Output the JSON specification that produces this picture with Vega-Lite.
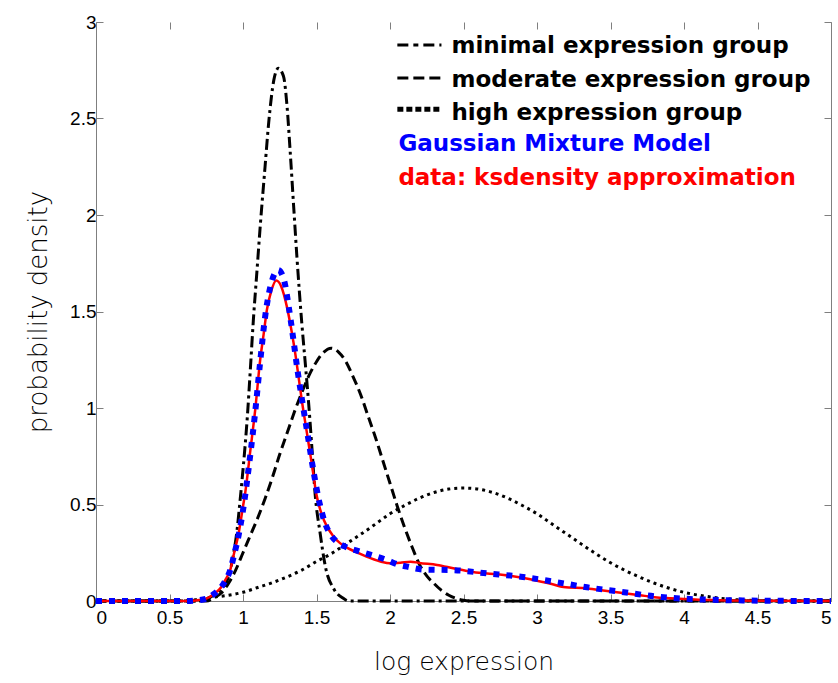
{
  "$schema": "https://vega.github.io/schema/vega-lite/v6.json",
  "width": 735,
  "height": 579,
  "autosize": {"type": "none"},
  "padding": {"left": 96, "top": 22, "right": 7, "bottom": 82},
  "background": "white",
  "config": {
    "view": {"stroke": null},
    "axis": {
      "grid": false,
      "labelFont": "Liberation Sans",
      "labelFontSize": 19,
      "labelColor": "black",
      "domainColor": "#7f7f7f",
      "tickColor": "#7f7f7f",
      "domainWidth": 1,
      "tickWidth": 1,
      "titleFont": "DejaVu Sans",
      "titleFontWeight": 200,
      "titleFontSize": 25,
      "titleColor": "black"
    }
  },
  "datasets": {
    "curves": [
      {"group": "minimal", "x": 0, "y": 0},
      {"group": "minimal", "x": 0.7, "y": 0},
      {"group": "minimal", "x": 0.75, "y": 0.01},
      {"group": "minimal", "x": 0.8, "y": 0.03},
      {"group": "minimal", "x": 0.85, "y": 0.06},
      {"group": "minimal", "x": 0.9, "y": 0.12},
      {"group": "minimal", "x": 0.93, "y": 0.22},
      {"group": "minimal", "x": 0.96, "y": 0.37},
      {"group": "minimal", "x": 0.98, "y": 0.52},
      {"group": "minimal", "x": 1.0, "y": 0.68},
      {"group": "minimal", "x": 1.03, "y": 0.96},
      {"group": "minimal", "x": 1.05, "y": 1.2},
      {"group": "minimal", "x": 1.07, "y": 1.45},
      {"group": "minimal", "x": 1.094, "y": 1.7},
      {"group": "minimal", "x": 1.117, "y": 1.94},
      {"group": "minimal", "x": 1.15, "y": 2.25},
      {"group": "minimal", "x": 1.175, "y": 2.48},
      {"group": "minimal", "x": 1.21, "y": 2.7},
      {"group": "minimal", "x": 1.24, "y": 2.76},
      {"group": "minimal", "x": 1.275, "y": 2.72},
      {"group": "minimal", "x": 1.3, "y": 2.56},
      {"group": "minimal", "x": 1.32, "y": 2.34},
      {"group": "minimal", "x": 1.345, "y": 2.04},
      {"group": "minimal", "x": 1.367, "y": 1.78},
      {"group": "minimal", "x": 1.4, "y": 1.44},
      {"group": "minimal", "x": 1.425, "y": 1.22},
      {"group": "minimal", "x": 1.447, "y": 1.02},
      {"group": "minimal", "x": 1.47, "y": 0.78},
      {"group": "minimal", "x": 1.49, "y": 0.56},
      {"group": "minimal", "x": 1.525, "y": 0.35},
      {"group": "minimal", "x": 1.56, "y": 0.18},
      {"group": "minimal", "x": 1.62, "y": 0.06},
      {"group": "minimal", "x": 1.68, "y": 0.015},
      {"group": "minimal", "x": 1.72, "y": 0},
      {"group": "minimal", "x": 5, "y": 0},

      {"group": "moderate", "x": 0, "y": 0},
      {"group": "moderate", "x": 0.75, "y": 0},
      {"group": "moderate", "x": 0.8, "y": 0.015},
      {"group": "moderate", "x": 0.85, "y": 0.04},
      {"group": "moderate", "x": 0.9, "y": 0.09},
      {"group": "moderate", "x": 0.95, "y": 0.16},
      {"group": "moderate", "x": 1.0, "y": 0.25},
      {"group": "moderate", "x": 1.05, "y": 0.34},
      {"group": "moderate", "x": 1.1, "y": 0.43},
      {"group": "moderate", "x": 1.15, "y": 0.53},
      {"group": "moderate", "x": 1.2, "y": 0.64},
      {"group": "moderate", "x": 1.25, "y": 0.76},
      {"group": "moderate", "x": 1.3, "y": 0.87},
      {"group": "moderate", "x": 1.35, "y": 0.98},
      {"group": "moderate", "x": 1.4, "y": 1.08},
      {"group": "moderate", "x": 1.45, "y": 1.17},
      {"group": "moderate", "x": 1.5, "y": 1.24},
      {"group": "moderate", "x": 1.55, "y": 1.29},
      {"group": "moderate", "x": 1.6, "y": 1.31},
      {"group": "moderate", "x": 1.65, "y": 1.29},
      {"group": "moderate", "x": 1.7, "y": 1.24},
      {"group": "moderate", "x": 1.75, "y": 1.16},
      {"group": "moderate", "x": 1.8, "y": 1.07},
      {"group": "moderate", "x": 1.85, "y": 0.96},
      {"group": "moderate", "x": 1.9, "y": 0.85},
      {"group": "moderate", "x": 1.95, "y": 0.73},
      {"group": "moderate", "x": 2.0, "y": 0.61},
      {"group": "moderate", "x": 2.05, "y": 0.49},
      {"group": "moderate", "x": 2.1, "y": 0.38},
      {"group": "moderate", "x": 2.15, "y": 0.28},
      {"group": "moderate", "x": 2.2, "y": 0.19},
      {"group": "moderate", "x": 2.25, "y": 0.13},
      {"group": "moderate", "x": 2.3, "y": 0.09},
      {"group": "moderate", "x": 2.35, "y": 0.055},
      {"group": "moderate", "x": 2.4, "y": 0.03},
      {"group": "moderate", "x": 2.45, "y": 0.014},
      {"group": "moderate", "x": 2.5, "y": 0.004},
      {"group": "moderate", "x": 2.55, "y": 0},
      {"group": "moderate", "x": 5, "y": 0},

      {"group": "high", "x": 0, "y": 0},
      {"group": "high", "x": 0.6, "y": 0},
      {"group": "high", "x": 0.72, "y": 0.012},
      {"group": "high", "x": 0.8, "y": 0.02},
      {"group": "high", "x": 0.9, "y": 0.03},
      {"group": "high", "x": 1.0, "y": 0.045},
      {"group": "high", "x": 1.1, "y": 0.07},
      {"group": "high", "x": 1.2, "y": 0.095},
      {"group": "high", "x": 1.3, "y": 0.125},
      {"group": "high", "x": 1.4, "y": 0.16},
      {"group": "high", "x": 1.5, "y": 0.205},
      {"group": "high", "x": 1.6, "y": 0.245},
      {"group": "high", "x": 1.7, "y": 0.295},
      {"group": "high", "x": 1.8, "y": 0.345},
      {"group": "high", "x": 1.9, "y": 0.398},
      {"group": "high", "x": 2.0, "y": 0.452},
      {"group": "high", "x": 2.1, "y": 0.495},
      {"group": "high", "x": 2.2, "y": 0.533},
      {"group": "high", "x": 2.3, "y": 0.562},
      {"group": "high", "x": 2.4, "y": 0.58},
      {"group": "high", "x": 2.5, "y": 0.585},
      {"group": "high", "x": 2.6, "y": 0.58},
      {"group": "high", "x": 2.7, "y": 0.562},
      {"group": "high", "x": 2.8, "y": 0.533},
      {"group": "high", "x": 2.9, "y": 0.495},
      {"group": "high", "x": 3.0, "y": 0.452},
      {"group": "high", "x": 3.1, "y": 0.4},
      {"group": "high", "x": 3.2, "y": 0.348},
      {"group": "high", "x": 3.3, "y": 0.296},
      {"group": "high", "x": 3.4, "y": 0.245},
      {"group": "high", "x": 3.5, "y": 0.198},
      {"group": "high", "x": 3.6, "y": 0.158},
      {"group": "high", "x": 3.7, "y": 0.123},
      {"group": "high", "x": 3.8, "y": 0.092},
      {"group": "high", "x": 3.9, "y": 0.066},
      {"group": "high", "x": 4.0, "y": 0.045},
      {"group": "high", "x": 4.1, "y": 0.03},
      {"group": "high", "x": 4.2, "y": 0.019},
      {"group": "high", "x": 4.3, "y": 0.01},
      {"group": "high", "x": 4.4, "y": 0.005},
      {"group": "high", "x": 4.5, "y": 0.002},
      {"group": "high", "x": 4.7, "y": 0},
      {"group": "high", "x": 5, "y": 0},

      {"group": "data", "x": 0, "y": 0},
      {"group": "data", "x": 0.6, "y": 0},
      {"group": "data", "x": 0.68, "y": 0.003},
      {"group": "data", "x": 0.75, "y": 0.012},
      {"group": "data", "x": 0.8, "y": 0.035},
      {"group": "data", "x": 0.85, "y": 0.07},
      {"group": "data", "x": 0.88, "y": 0.11},
      {"group": "data", "x": 0.913, "y": 0.16},
      {"group": "data", "x": 0.94, "y": 0.25},
      {"group": "data", "x": 0.97, "y": 0.35},
      {"group": "data", "x": 1.0, "y": 0.49},
      {"group": "data", "x": 1.015, "y": 0.56},
      {"group": "data", "x": 1.05, "y": 0.78},
      {"group": "data", "x": 1.083, "y": 0.99},
      {"group": "data", "x": 1.117, "y": 1.25},
      {"group": "data", "x": 1.14, "y": 1.38},
      {"group": "data", "x": 1.163, "y": 1.51},
      {"group": "data", "x": 1.19, "y": 1.6},
      {"group": "data", "x": 1.226, "y": 1.66},
      {"group": "data", "x": 1.26, "y": 1.63},
      {"group": "data", "x": 1.3, "y": 1.52},
      {"group": "data", "x": 1.33, "y": 1.4},
      {"group": "data", "x": 1.356, "y": 1.28},
      {"group": "data", "x": 1.38, "y": 1.15},
      {"group": "data", "x": 1.4, "y": 1.04},
      {"group": "data", "x": 1.435, "y": 0.87},
      {"group": "data", "x": 1.47, "y": 0.7},
      {"group": "data", "x": 1.5, "y": 0.55},
      {"group": "data", "x": 1.55, "y": 0.42},
      {"group": "data", "x": 1.617, "y": 0.333},
      {"group": "data", "x": 1.66, "y": 0.3},
      {"group": "data", "x": 1.71, "y": 0.275},
      {"group": "data", "x": 1.78, "y": 0.25},
      {"group": "data", "x": 1.84, "y": 0.23},
      {"group": "data", "x": 1.935, "y": 0.205},
      {"group": "data", "x": 2.0, "y": 0.195},
      {"group": "data", "x": 2.07, "y": 0.198},
      {"group": "data", "x": 2.14, "y": 0.204},
      {"group": "data", "x": 2.2, "y": 0.197},
      {"group": "data", "x": 2.32, "y": 0.187},
      {"group": "data", "x": 2.43, "y": 0.17},
      {"group": "data", "x": 2.55, "y": 0.152},
      {"group": "data", "x": 2.66, "y": 0.143},
      {"group": "data", "x": 2.775, "y": 0.135},
      {"group": "data", "x": 2.9, "y": 0.12},
      {"group": "data", "x": 3.0, "y": 0.105},
      {"group": "data", "x": 3.1, "y": 0.088},
      {"group": "data", "x": 3.18, "y": 0.072},
      {"group": "data", "x": 3.34, "y": 0.065},
      {"group": "data", "x": 3.45, "y": 0.055},
      {"group": "data", "x": 3.57, "y": 0.043},
      {"group": "data", "x": 3.7, "y": 0.03},
      {"group": "data", "x": 3.8, "y": 0.02},
      {"group": "data", "x": 3.91, "y": 0.014},
      {"group": "data", "x": 4.0, "y": 0.01},
      {"group": "data", "x": 4.1, "y": 0.007},
      {"group": "data", "x": 4.2, "y": 0.005},
      {"group": "data", "x": 4.3, "y": 0.003},
      {"group": "data", "x": 4.5, "y": 0.001},
      {"group": "data", "x": 5, "y": 0},

      {"group": "gmm", "x": 0, "y": 0},
      {"group": "gmm", "x": 0.6, "y": 0},
      {"group": "gmm", "x": 0.68, "y": 0.003},
      {"group": "gmm", "x": 0.75, "y": 0.012},
      {"group": "gmm", "x": 0.8, "y": 0.035},
      {"group": "gmm", "x": 0.85, "y": 0.07},
      {"group": "gmm", "x": 0.88, "y": 0.105},
      {"group": "gmm", "x": 0.913, "y": 0.16},
      {"group": "gmm", "x": 0.94, "y": 0.24},
      {"group": "gmm", "x": 0.97, "y": 0.34},
      {"group": "gmm", "x": 1.0, "y": 0.47},
      {"group": "gmm", "x": 1.05, "y": 0.76},
      {"group": "gmm", "x": 1.083, "y": 0.98},
      {"group": "gmm", "x": 1.117, "y": 1.24},
      {"group": "gmm", "x": 1.15, "y": 1.47},
      {"group": "gmm", "x": 1.19, "y": 1.64},
      {"group": "gmm", "x": 1.24, "y": 1.715},
      {"group": "gmm", "x": 1.28, "y": 1.66},
      {"group": "gmm", "x": 1.31, "y": 1.53},
      {"group": "gmm", "x": 1.34, "y": 1.37},
      {"group": "gmm", "x": 1.37, "y": 1.2},
      {"group": "gmm", "x": 1.4, "y": 1.05},
      {"group": "gmm", "x": 1.44, "y": 0.86},
      {"group": "gmm", "x": 1.48, "y": 0.67},
      {"group": "gmm", "x": 1.52, "y": 0.51},
      {"group": "gmm", "x": 1.56, "y": 0.4},
      {"group": "gmm", "x": 1.6, "y": 0.34},
      {"group": "gmm", "x": 1.65, "y": 0.3},
      {"group": "gmm", "x": 1.7, "y": 0.28},
      {"group": "gmm", "x": 1.78, "y": 0.26},
      {"group": "gmm", "x": 1.866, "y": 0.24},
      {"group": "gmm", "x": 1.98, "y": 0.212},
      {"group": "gmm", "x": 2.05, "y": 0.19},
      {"group": "gmm", "x": 2.116, "y": 0.178},
      {"group": "gmm", "x": 2.23, "y": 0.163},
      {"group": "gmm", "x": 2.434, "y": 0.16},
      {"group": "gmm", "x": 2.66, "y": 0.143},
      {"group": "gmm", "x": 2.89, "y": 0.126},
      {"group": "gmm", "x": 3.115, "y": 0.1},
      {"group": "gmm", "x": 3.34, "y": 0.071},
      {"group": "gmm", "x": 3.57, "y": 0.048},
      {"group": "gmm", "x": 3.8, "y": 0.024},
      {"group": "gmm", "x": 4.0, "y": 0.012},
      {"group": "gmm", "x": 4.2, "y": 0.006},
      {"group": "gmm", "x": 4.4, "y": 0.003},
      {"group": "gmm", "x": 4.6, "y": 0.001},
      {"group": "gmm", "x": 5, "y": 0}
    ],
    "keys": [
      {"item": "minimal", "x": 2.05, "y": 2.881},
      {"item": "minimal", "x": 2.35, "y": 2.881},
      {"item": "moderate", "x": 2.05, "y": 2.71},
      {"item": "moderate", "x": 2.35, "y": 2.71},
      {"item": "high", "x": 2.05, "y": 2.548},
      {"item": "high", "x": 2.35, "y": 2.548}
    ],
    "labels": [
      {"label": "minimal expression group", "x": 2.418, "y": 2.876},
      {"label": "moderate expression group", "x": 2.418, "y": 2.697},
      {"label": "high expression group", "x": 2.418, "y": 2.53},
      {"label": "Gaussian Mixture Model", "x": 2.057, "y": 2.37},
      {"label": "data: ksdensity approximation", "x": 2.057, "y": 2.192}
    ]
  },
  "layer": [
    {
      "data": {"name": "curves"},
      "transform": [{"filter": "datum.group === 'minimal'"}],
      "mark": {"type": "line", "color": "black", "strokeWidth": 3, "strokeDash": [11, 4, 3, 4], "interpolate": "monotone"},
      "encoding": {
        "x": {"field": "x", "type": "quantitative", "scale": {"domain": [0, 5], "nice": false, "zero": false},
          "axis": {"orient": "bottom", "values": [0, 0.5, 1, 1.5, 2, 2.5, 3, 3.5, 4, 4.5, 5], "format": "~g", "tickSize": -7, "labelPadding": 14, "title": "log expression", "titlePadding": 22}},
        "y": {"field": "y", "type": "quantitative", "scale": {"domain": [0, 3], "nice": false},
          "axis": {"orient": "left", "values": [0, 0.5, 1, 1.5, 2, 2.5, 3], "format": "~g", "tickSize": -7, "labelPadding": 7, "title": "probability density", "titlePadding": 18, "titleFontSize": 26}}
      }
    },
    {
      "data": {"name": "curves"},
      "transform": [{"filter": "datum.group === 'moderate'"}],
      "mark": {"type": "line", "color": "black", "strokeWidth": 3, "strokeDash": [10, 5], "interpolate": "monotone"},
      "encoding": {
        "x": {"field": "x", "type": "quantitative",
          "axis": {"orient": "top", "values": [0, 0.5, 1, 1.5, 2, 2.5, 3, 3.5, 4, 4.5, 5], "labels": false, "domain": false, "tickSize": -7, "title": null}},
        "y": {"field": "y", "type": "quantitative",
          "axis": {"orient": "right", "values": [0, 0.5, 1, 1.5, 2, 2.5, 3], "labels": false, "tickSize": -7, "title": null}}
      }
    },
    {
      "data": {"name": "curves"},
      "transform": [{"filter": "datum.group === 'high'"}],
      "mark": {"type": "line", "color": "black", "strokeWidth": 3, "strokeDash": [3, 4], "interpolate": "monotone"},
      "encoding": {
        "x": {"field": "x", "type": "quantitative", "axis": null},
        "y": {"field": "y", "type": "quantitative", "axis": null}
      }
    },
    {
      "data": {"name": "curves"},
      "transform": [{"filter": "datum.group === 'data'"}],
      "mark": {"type": "line", "color": "#ff0000", "strokeWidth": 2.5, "interpolate": "monotone"},
      "encoding": {
        "x": {"field": "x", "type": "quantitative", "axis": null},
        "y": {"field": "y", "type": "quantitative", "axis": null}
      }
    },
    {
      "data": {"name": "curves"},
      "transform": [{"filter": "datum.group === 'gmm'"}],
      "mark": {"type": "line", "color": "#0000ff", "strokeWidth": 6, "strokeDash": [6, 7], "interpolate": "monotone"},
      "encoding": {
        "x": {"field": "x", "type": "quantitative", "axis": null},
        "y": {"field": "y", "type": "quantitative", "axis": null}
      }
    },
    {
      "data": {"name": "keys"},
      "transform": [{"filter": "datum.item === 'minimal'"}],
      "mark": {"type": "line", "color": "black", "strokeWidth": 3, "strokeDash": [11, 5, 5, 5]},
      "encoding": {
        "x": {"field": "x", "type": "quantitative", "axis": null},
        "y": {"field": "y", "type": "quantitative", "axis": null}
      }
    },
    {
      "data": {"name": "keys"},
      "transform": [{"filter": "datum.item === 'moderate'"}],
      "mark": {"type": "line", "color": "black", "strokeWidth": 3, "strokeDash": [11, 5]},
      "encoding": {
        "x": {"field": "x", "type": "quantitative", "axis": null},
        "y": {"field": "y", "type": "quantitative", "axis": null}
      }
    },
    {
      "data": {"name": "keys"},
      "transform": [{"filter": "datum.item === 'high'"}],
      "mark": {"type": "line", "color": "black", "strokeWidth": 5, "strokeDash": [6, 3]},
      "encoding": {
        "x": {"field": "x", "type": "quantitative", "axis": null},
        "y": {"field": "y", "type": "quantitative", "axis": null}
      }
    },
    {
      "data": {"name": "labels"},
      "mark": {"type": "text", "align": "left", "baseline": "middle", "font": "DejaVu Sans", "fontWeight": "bold", "fontSize": 23},
      "encoding": {
        "x": {"field": "x", "type": "quantitative", "axis": null},
        "y": {"field": "y", "type": "quantitative", "axis": null},
        "text": {"field": "label"},
        "color": {"field": "label", "type": "nominal", "legend": null,
          "scale": {"domain": ["minimal expression group", "moderate expression group", "high expression group", "Gaussian Mixture Model", "data: ksdensity approximation"],
            "range": ["black", "black", "black", "#0000ff", "#ff0000"]}}
      }
    }
  ],
  "resolve": {"axis": {"x": "independent", "y": "independent"}}
}
